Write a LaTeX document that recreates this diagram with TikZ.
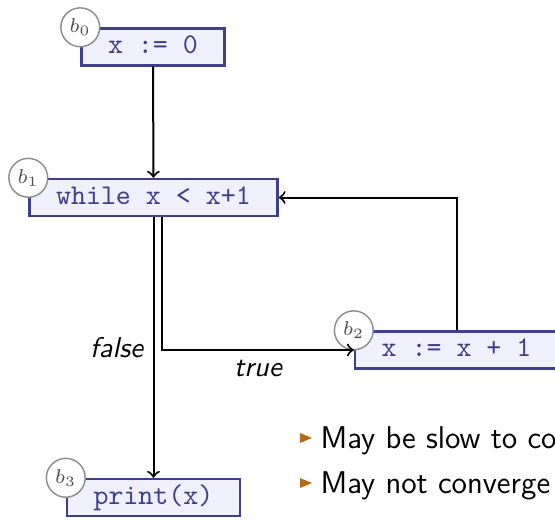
\documentclass[tikz,border=0pt]{standalone}
\usetikzlibrary{positioning,calc}
\definecolor{BoxLine}{HTML}{3F3F8A}
\definecolor{BoxFill}{HTML}{F0F0FC}
\definecolor{TagLine}{HTML}{8C8C8C}
\definecolor{TagText}{HTML}{505050}
\definecolor{Bullet}{HTML}{B06A1A}
\tikzset{
 block/.style={draw=BoxLine, line width=0.8pt, fill=BoxFill, text=BoxLine, font=\ttfamily, inner xsep=9.3pt, inner ysep=0pt, text height=6.6pt, text depth=1.9pt, minimum height=13pt},
 tag/.style={circle, draw=TagLine, line width=0.5pt, fill=white, text=TagText, inner sep=0pt, minimum size=13.6pt, font=\fontsize{7.5}{9}\selectfont},
 flow/.style={->, line width=0.7pt},
 edgelabel/.style={font=\sffamily\itshape},
 item/.style={inner sep=0pt, anchor=base west, font=\sffamily\fontsize{11}{13}\selectfont}
}
\begin{document}
\begin{tikzpicture}[x=0.35pt,y=-0.35pt]
\path[use as bounding box, clip] (0,0) rectangle (555,523);
\node[block] (b0) at (153,47) {x := 0};
\node[block] (b1) at (153.5,197.5) {while x < x+1};
\node[block] (b2) at (456.5,350) {x := x + 1};
\node[block] (b3) at (153.5,497.5) {print(x)};
\foreach \b/\i in {b0/0,b1/1,b2/2,b3/3}{\node[tag] (tag\i) at (\b.north west) {$b_{\i}$};}
\draw[flow] (b0) -- (b1);
\draw[flow] (b1.south) -- node[edgelabel, left] (falselabel) {false} (b3.north);
\draw[flow] ([xshift=3pt]b1.south) |- node[edgelabel, below, pos=0.75] (truelabel) {true} (b2.west);
\draw[flow] (b2.north) |- (b1.east);
\node[item] (item1) at (320,448) {May be slow to co};
\node[item] (item2) at (320,493) {May not converge};
\foreach \n in {item1,item2}{\fill[Bullet] ($(\n.base west)+(-20,-15)$) -- ($(\n.base west)+(-20,-5)$) -- ($(\n.base west)+(-8,-10)$) -- cycle;}
\end{tikzpicture}
\end{document}
